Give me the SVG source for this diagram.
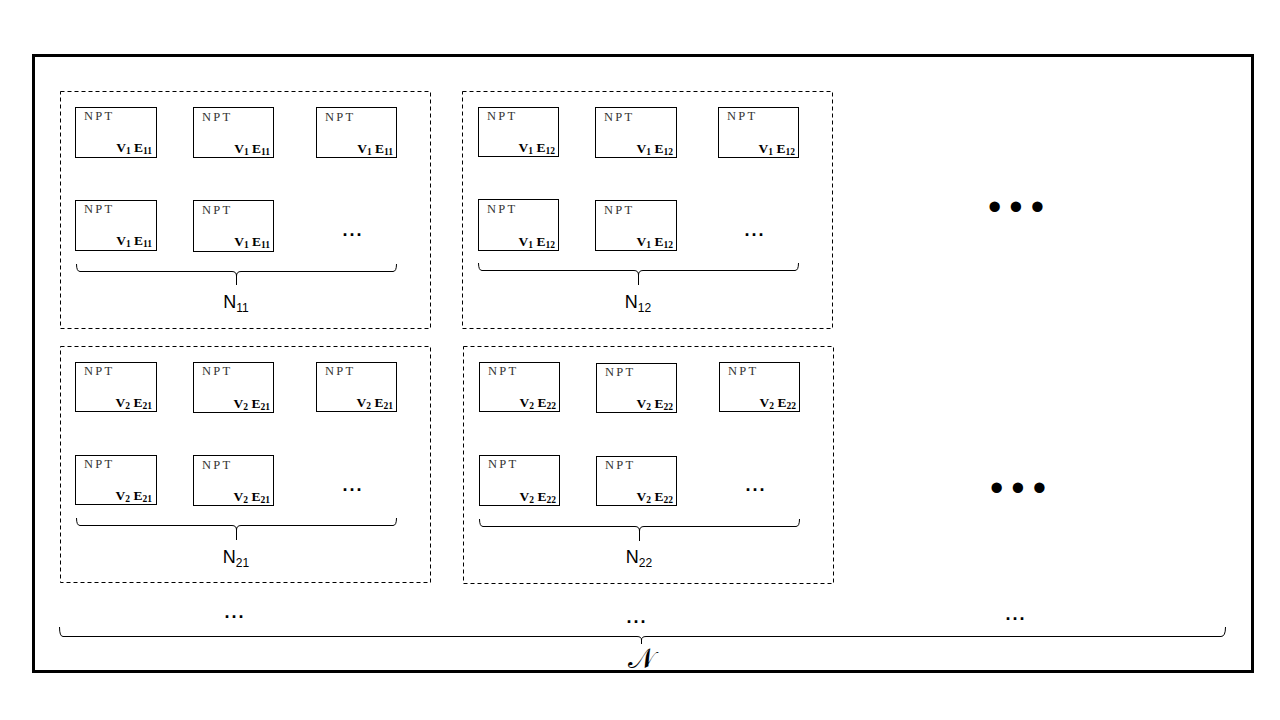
<svg xmlns="http://www.w3.org/2000/svg" width="1280" height="720" viewBox="0 0 1280 720">
<style>
.frame{fill:none;stroke:#000;stroke-width:3}
.grp{fill:none;stroke:#000;stroke-width:1;stroke-dasharray:4 3}
.box{fill:#fff;stroke:#000;stroke-width:1}
.npt{font-family:"Liberation Serif",serif;font-size:12.5px;letter-spacing:2.2px;fill:#333}
.ve{font-family:"Liberation Serif",serif;font-size:13.5px;font-weight:bold;text-anchor:end;fill:#000}
.sub{font-size:9.5px}
.br{fill:none;stroke:#000;stroke-width:1}
.lbl{font-family:"Liberation Sans",sans-serif;font-size:18px;text-anchor:middle;fill:#000}
.lsub{font-size:12px}
.dots{font-family:"Liberation Sans",sans-serif;font-size:18px;font-weight:bold;text-anchor:middle;fill:#000;letter-spacing:2px}
.bdots{font-family:"Liberation Sans",sans-serif;font-size:38px;text-anchor:middle;fill:#000;letter-spacing:8px}
</style>
<rect width="1280" height="720" fill="#fff"/>
<rect class="frame" x="33.5" y="55.5" width="1219" height="616"/>

<g id="group-N11">
<rect class="grp" x="60.5" y="91.5" width="370" height="237"/>
<g id="n11-1"><rect class="box" x="75.5" y="107.5" width="81" height="50"/><text class="npt" x="84" y="120">NPT</text><text class="ve" x="152" y="152">V<tspan class="sub" dy="2">1</tspan><tspan dy="-2"> E</tspan><tspan class="sub" dy="2">11</tspan></text></g>
<g id="n11-2"><rect class="box" x="193.5" y="107.5" width="80" height="50"/><text class="npt" x="202" y="121">NPT</text><text class="ve" x="270" y="153">V<tspan class="sub" dy="2">1</tspan><tspan dy="-2"> E</tspan><tspan class="sub" dy="2">11</tspan></text></g>
<g id="n11-3"><rect class="box" x="316.5" y="107.5" width="80" height="50"/><text class="npt" x="325" y="121">NPT</text><text class="ve" x="393" y="153">V<tspan class="sub" dy="2">1</tspan><tspan dy="-2"> E</tspan><tspan class="sub" dy="2">11</tspan></text></g>
<g id="n11-4"><rect class="box" x="75.5" y="200.5" width="81" height="50"/><text class="npt" x="84" y="213">NPT</text><text class="ve" x="152" y="245">V<tspan class="sub" dy="2">1</tspan><tspan dy="-2"> E</tspan><tspan class="sub" dy="2">11</tspan></text></g>
<g id="n11-5"><rect class="box" x="193.5" y="200.5" width="80" height="51"/><text class="npt" x="202" y="214">NPT</text><text class="ve" x="270" y="246">V<tspan class="sub" dy="2">1</tspan><tspan dy="-2"> E</tspan><tspan class="sub" dy="2">11</tspan></text></g>
<text class="dots" x="353" y="236">...</text>
<path class="br" d="M76.5,264 Q76.5,271.5 80,271.5 L232,271.5 Q236.5,271.5 236.5,276 L236.5,285 M236.5,276 Q236.5,271.5 241,271.5 L393,271.5 Q396.5,271.5 396.5,264"/>
<text class="lbl" x="236" y="308">N<tspan class="lsub" dy="4">11</tspan></text>
</g>

<g id="group-N12">
<rect class="grp" x="462.5" y="91.5" width="370" height="237"/>
<g id="n12-1"><rect class="box" x="478.5" y="107.5" width="80" height="49"/><text class="npt" x="487" y="120">NPT</text><text class="ve" x="555" y="152">V<tspan class="sub" dy="2">1</tspan><tspan dy="-2"> E</tspan><tspan class="sub" dy="2">12</tspan></text></g>
<g id="n12-2"><rect class="box" x="595.5" y="107.5" width="81" height="50"/><text class="npt" x="604" y="121">NPT</text><text class="ve" x="673" y="153">V<tspan class="sub" dy="2">1</tspan><tspan dy="-2"> E</tspan><tspan class="sub" dy="2">12</tspan></text></g>
<g id="n12-3"><rect class="box" x="718.5" y="107.5" width="80" height="50"/><text class="npt" x="727" y="120">NPT</text><text class="ve" x="795" y="153">V<tspan class="sub" dy="2">1</tspan><tspan dy="-2"> E</tspan><tspan class="sub" dy="2">12</tspan></text></g>
<g id="n12-4"><rect class="box" x="478.5" y="199.5" width="80" height="51"/><text class="npt" x="487" y="213">NPT</text><text class="ve" x="555" y="246">V<tspan class="sub" dy="2">1</tspan><tspan dy="-2"> E</tspan><tspan class="sub" dy="2">12</tspan></text></g>
<g id="n12-5"><rect class="box" x="595.5" y="200.5" width="81" height="50"/><text class="npt" x="604" y="214">NPT</text><text class="ve" x="673" y="246">V<tspan class="sub" dy="2">1</tspan><tspan dy="-2"> E</tspan><tspan class="sub" dy="2">12</tspan></text></g>
<text class="dots" x="755" y="236">...</text>
<path class="br" d="M478.5,263 Q478.5,270.5 482,270.5 L634,270.5 Q638.5,270.5 638.5,275 L638.5,285 M638.5,275 Q638.5,270.5 643,270.5 L795,270.5 Q798.5,270.5 798.5,263"/>
<text class="lbl" x="638" y="308">N<tspan class="lsub" dy="4">12</tspan></text>
</g>

<g id="group-N21">
<rect class="grp" x="60.5" y="346.5" width="370" height="236"/>
<g id="n21-1"><rect class="box" x="75.5" y="362.5" width="81" height="49"/><text class="npt" x="84" y="375">NPT</text><text class="ve" x="152" y="407">V<tspan class="sub" dy="2">2</tspan><tspan dy="-2"> E</tspan><tspan class="sub" dy="2">21</tspan></text></g>
<g id="n21-2"><rect class="box" x="193.5" y="362.5" width="80" height="50"/><text class="npt" x="202" y="375">NPT</text><text class="ve" x="270" y="408">V<tspan class="sub" dy="2">2</tspan><tspan dy="-2"> E</tspan><tspan class="sub" dy="2">21</tspan></text></g>
<g id="n21-3"><rect class="box" x="316.5" y="362.5" width="80" height="49"/><text class="npt" x="325" y="375">NPT</text><text class="ve" x="393" y="407">V<tspan class="sub" dy="2">2</tspan><tspan dy="-2"> E</tspan><tspan class="sub" dy="2">21</tspan></text></g>
<g id="n21-4"><rect class="box" x="75.5" y="455.5" width="81" height="49"/><text class="npt" x="84" y="468">NPT</text><text class="ve" x="152" y="500">V<tspan class="sub" dy="2">2</tspan><tspan dy="-2"> E</tspan><tspan class="sub" dy="2">21</tspan></text></g>
<g id="n21-5"><rect class="box" x="193.5" y="455.5" width="80" height="50"/><text class="npt" x="202" y="469">NPT</text><text class="ve" x="270" y="501">V<tspan class="sub" dy="2">2</tspan><tspan dy="-2"> E</tspan><tspan class="sub" dy="2">21</tspan></text></g>
<text class="dots" x="353" y="491">...</text>
<path class="br" d="M76.5,518 Q76.5,525.5 80,525.5 L232,525.5 Q236.5,525.5 236.5,530 L236.5,540 M236.5,530 Q236.5,525.5 241,525.5 L393,525.5 Q396.5,525.5 396.5,518"/>
<text class="lbl" x="236" y="563">N<tspan class="lsub" dy="4">21</tspan></text>
</g>

<g id="group-N22">
<rect class="grp" x="463.5" y="346.5" width="370" height="237"/>
<g id="n22-1"><rect class="box" x="479.5" y="362.5" width="80" height="49"/><text class="npt" x="488" y="375">NPT</text><text class="ve" x="556" y="407">V<tspan class="sub" dy="2">2</tspan><tspan dy="-2"> E</tspan><tspan class="sub" dy="2">22</tspan></text></g>
<g id="n22-2"><rect class="box" x="596.5" y="363.5" width="80" height="49"/><text class="npt" x="605" y="376">NPT</text><text class="ve" x="673" y="408">V<tspan class="sub" dy="2">2</tspan><tspan dy="-2"> E</tspan><tspan class="sub" dy="2">22</tspan></text></g>
<g id="n22-3"><rect class="box" x="719.5" y="362.5" width="80" height="49"/><text class="npt" x="728" y="375">NPT</text><text class="ve" x="796" y="407">V<tspan class="sub" dy="2">2</tspan><tspan dy="-2"> E</tspan><tspan class="sub" dy="2">22</tspan></text></g>
<g id="n22-4"><rect class="box" x="479.5" y="455.5" width="80" height="50"/><text class="npt" x="488" y="468">NPT</text><text class="ve" x="556" y="501">V<tspan class="sub" dy="2">2</tspan><tspan dy="-2"> E</tspan><tspan class="sub" dy="2">22</tspan></text></g>
<g id="n22-5"><rect class="box" x="596.5" y="456.5" width="80" height="49"/><text class="npt" x="605" y="469">NPT</text><text class="ve" x="673" y="501">V<tspan class="sub" dy="2">2</tspan><tspan dy="-2"> E</tspan><tspan class="sub" dy="2">22</tspan></text></g>
<text class="dots" x="756" y="491">...</text>
<path class="br" d="M479.5,519 Q479.5,526.5 483,526.5 L635,526.5 Q639.5,526.5 639.5,531 L639.5,541 M639.5,531 Q639.5,526.5 644,526.5 L796,526.5 Q799.5,526.5 799.5,519"/>
<text class="lbl" x="639" y="563">N<tspan class="lsub" dy="4">22</tspan></text>
</g>

<g id="more">
<text class="bdots" x="1020" y="220">•••</text>
<text class="bdots" x="1022" y="501">•••</text>
<text class="dots" x="235" y="618">...</text>
<text class="dots" x="637" y="623">...</text>
<text class="dots" x="1016" y="620">...</text>
</g>

<g id="connectors">
<path class="br" d="M59.5,627 Q59.5,636.5 63,636.5 L637,636.5 Q641.5,636.5 641.5,640 L641.5,644 M641.5,640 Q641.5,636.5 646,636.5 L1221,636.5 Q1225.5,636.5 1225.5,627"/>
</g>
<text x="641" y="668" font-family="DejaVu Serif, serif" font-size="28" text-anchor="middle">𝒩</text>
</svg>
